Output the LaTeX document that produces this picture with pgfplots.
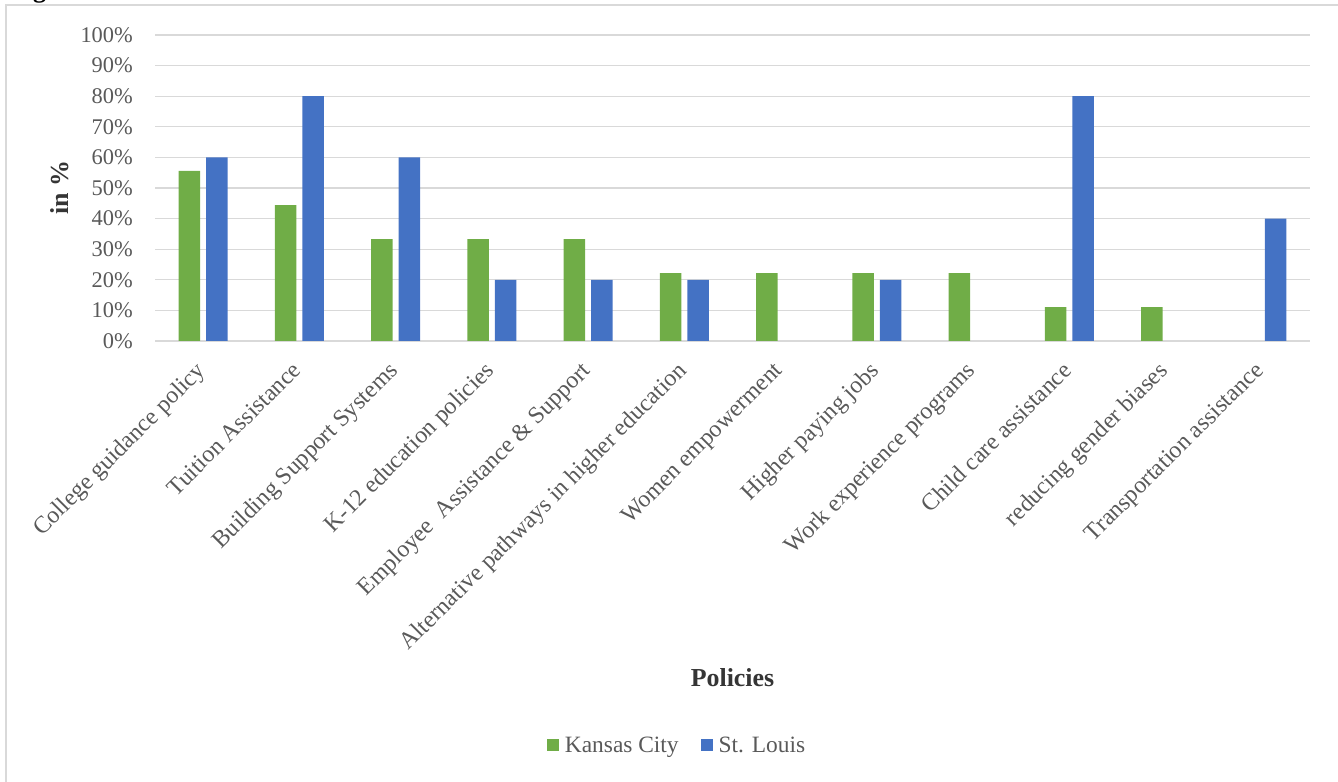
\documentclass[border=0pt]{standalone}
\usepackage{fontspec}
\setmainfont{Liberation Serif}
\usepackage{pgfplots}
\pgfplotsset{compat=1.18}
\definecolor{kc}{HTML}{70AD47}
\definecolor{stl}{HTML}{4472C4}
\definecolor{gridc}{HTML}{D9D9D9}
\definecolor{txt}{HTML}{595959}
\begin{document}
\begin{tikzpicture}
\useasboundingbox (0,0) rectangle (1338bp,782bp);
\begin{scope}
\clip (0,0) rectangle (1338bp,782bp);
\node[anchor=base west, font=\fontsize{26}{30}\selectfont\bfseries, inner sep=0] at (10bp,784.5bp) {Figure};
\end{scope}
\draw[gridc, line width=1.5bp] (6bp,0) -- (6bp,777bp) -- (1338bp,777bp);
\begin{axis}[
  at={(155bp,441bp)}, anchor=south west, scale only axis,
  width=1155bp, height=306bp,
  ymin=0, ymax=100, xmin=-0.5, xmax=11.5,
  ybar=6bp, bar width=21.5bp,
  axis line style={draw=none},
  major tick length=0pt,
  ymajorgrids, grid style={gridc, line width=1.3bp},
  ytick={0,10,20,30,40,50,60,70,80,90,100},
  yticklabels={0\%,10\%,20\%,30\%,40\%,50\%,60\%,70\%,80\%,90\%,100\%},
  xtick={0,1,2,3,4,5,6,7,8,9,10,11},
  xticklabels={College guidance policy,Tuition Assistance,Building Support Systems,K-12 education policies,Employee\ \ Assistance \& Support,Alternative pathways in higher education,Women empowerment,Higher paying jobs,Work experience programs,Child care assistance,reducing gender biases,Transportation assistance},
  tick label style={font=\fontsize{22.5}{26}\selectfont, text=txt, inner sep=0pt},
  y tick label style={anchor=east, xshift=-22bp},
  x tick label style={font=\fontsize{24}{28}\selectfont, rotate=45, anchor=north east, xshift=-19.5bp, yshift=-7.5bp},
  ylabel={\textbf{in \%}},
  ylabel style={at={(axis description cs:-0.0823,0.5)}, anchor=center, font=\fontsize{26}{30}\selectfont, text=txt!60!black},
  xlabel={\textbf{Policies}},
  xlabel style={at={(axis description cs:0.5,-1.101)}, anchor=center, font=\fontsize{26}{30}\selectfont, text=txt!60!black},
  legend columns=2,
  legend image code/.code={\path[#1,draw=none] (0bp,-5bp) rectangle (12bp,7bp);},
  legend style={at={(axis description cs:0.452,-1.3235)}, anchor=center, draw=none, fill=none,
    font=\fontsize{23.5}{27}\selectfont, text=txt,
    /tikz/every odd column/.append style={column sep=4bp},
    /tikz/every even column/.append style={column sep=20bp}},
]
\addplot[fill=kc, draw=none] coordinates {(0,55.6) (1,44.4) (2,33.3) (3,33.3) (4,33.3) (5,22.2) (6,22.2) (7,22.2) (8,22.2) (9,11.1) (10,11.1)};
\addplot[fill=stl, draw=none] coordinates {(0,60) (1,80) (2,60) (3,20) (4,20) (5,20) (7,20) (9,80) (11,40)};
\legend{Kansas City, St. Louis}
\end{axis}
\end{tikzpicture}
\end{document}
